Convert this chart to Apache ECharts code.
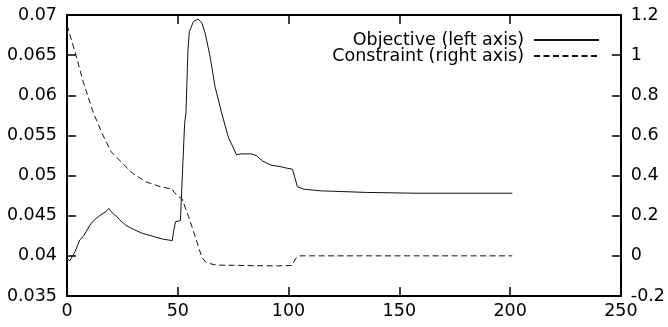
<!DOCTYPE html>
<html>
<head>
<meta charset="utf-8">
<script src="https://cdn.jsdelivr.net/npm/echarts@6/dist/echarts.min.js"></script>
<style>html,body{margin:0;padding:0;background:#fff;}#c{width:668px;height:327px;}</style>
</head>
<body>
<div id="c"></div>
<script>
const seriesNames = ['Objective (left axis)', 'Constraint (right axis)'];
const objX = [0, 1.3, 3.6, 5.8, 7.3, 10.3, 11.7, 14.7, 17.5, 18.9, 20, 21.4, 22.5, 23.7, 24.5, 26.6, 30, 34.1, 38, 43, 47.5, 48.2, 49, 51.2, 51.9, 52.2, 53.1, 53.7, 54.6, 55.2, 57.1, 59.1, 60.9, 62.4, 64.6, 66.8, 69.8, 72.8, 76.5, 78.7, 83.2, 85.4, 88.4, 92.1, 96.6, 99.6, 101.8, 102.5, 104, 107, 114.4, 135.3, 157.6, 201];
const objY = [0.0396, 0.0394, 0.0405, 0.0420, 0.0424, 0.0438, 0.0443, 0.0450, 0.0455, 0.0459, 0.0455, 0.0451, 0.0449, 0.0445, 0.0445, 0.0438, 0.0433, 0.0428, 0.0425, 0.0421, 0.0419, 0.0432, 0.04425, 0.0444, 0.0445, 0.0509, 0.0565, 0.0578, 0.0656, 0.0679, 0.0692, 0.0695, 0.0690, 0.0677, 0.0648, 0.0611, 0.0578, 0.0548, 0.0526, 0.0527, 0.0527, 0.0525, 0.0518, 0.0513, 0.0511, 0.0509, 0.0508, 0.0506, 0.0486, 0.0483, 0.0481, 0.0479, 0.0478, 0.0478];
const conX = [0, 3.6, 7.3, 11.7, 16.2, 19.9, 26.6, 29.6, 35.6, 42, 46, 47.5, 48.2, 50.4, 51.9, 54.9, 57.9, 60.8, 62.5, 63.8, 67.5, 75, 85, 95, 101.5, 103.3, 104.8, 201];
const conY = [1.15, 1.017, 0.868, 0.718, 0.602, 0.519, 0.444, 0.411, 0.369, 0.345, 0.336, 0.333, 0.318, 0.295, 0.285, 0.195, 0.095, -0.005, -0.03, -0.037, -0.046, -0.047, -0.049, -0.05, -0.048, -0.012, 0.0, 0.0];
const xTicks = {min: 0, max: 250, interval: 50};
const yLeftTicks = {min: 0.035, max: 0.07, interval: 0.005};
const yRightTicks = {min: -0.2, max: 1.2, interval: 0.2};

const FONT = 'DejaVu Sans';
const FS = 17.5;
const axisLine = {show: true, onZero: false, lineStyle: {color: '#000', width: 2}};
const tick = {show: true, inside: true, length: 9, lineStyle: {color: '#000', width: 1.5}};
const lbl = {color: '#000', fontFamily: FONT, fontSize: FS};

const chart = echarts.init(document.getElementById('c'), null, {renderer: 'canvas'});
chart.setOption({
  animation: false,
  backgroundColor: '#fff',
  grid: {left: 67, right: 41, top: 15, bottom: 31, containLabel: false},
  legend: {
    orient: 'vertical', align: 'right', right: 68, top: 31, padding: 0,
    itemGap: -2, itemWidth: 65, itemHeight: 10,
    data: seriesNames,
    itemStyle: {opacity: 0},
    textStyle: {color: '#000', fontFamily: FONT, fontSize: FS, lineHeight: 15, padding: [0, 5, 0, 0]}
  },
  xAxis: [
    {type: 'value', position: 'bottom', min: xTicks.min, max: xTicks.max, interval: xTicks.interval,
     axisLine: axisLine, axisTick: tick, splitLine: {show: false},
     axisLabel: Object.assign({margin: 6}, lbl)},
    {type: 'value', position: 'top', min: xTicks.min, max: xTicks.max, interval: xTicks.interval,
     axisLine: axisLine, axisTick: tick, splitLine: {show: false}, axisLabel: {show: false}}
  ],
  yAxis: [
    {type: 'value', position: 'left', min: yLeftTicks.min, max: yLeftTicks.max, interval: yLeftTicks.interval,
     axisLine: axisLine, axisTick: tick, splitLine: {show: false},
     axisLabel: Object.assign({margin: 10, formatter: v => String(parseFloat(v.toFixed(4)))}, lbl)},
    {type: 'value', position: 'right', min: yRightTicks.min, max: yRightTicks.max, interval: yRightTicks.interval,
     axisLine: axisLine, axisTick: tick, splitLine: {show: false},
     axisLabel: Object.assign({margin: 10, formatter: v => String(parseFloat(v.toFixed(2)))}, lbl)}
  ],
  series: [
    {name: seriesNames[0], type: 'line', xAxisIndex: 0, yAxisIndex: 0, symbol: 'none',
     lineStyle: {color: '#111', width: 1}, itemStyle: {color: '#111'},
     data: objX.map((x, i) => [x, objY[i]])},
    {name: seriesNames[1], type: 'line', xAxisIndex: 0, yAxisIndex: 1, symbol: 'none',
     lineStyle: {color: '#111', width: 1, type: [6, 3.5]}, itemStyle: {color: '#111'},
     data: conX.map((x, i) => [x, conY[i]])}
  ]
});
</script>
</body>
</html>
